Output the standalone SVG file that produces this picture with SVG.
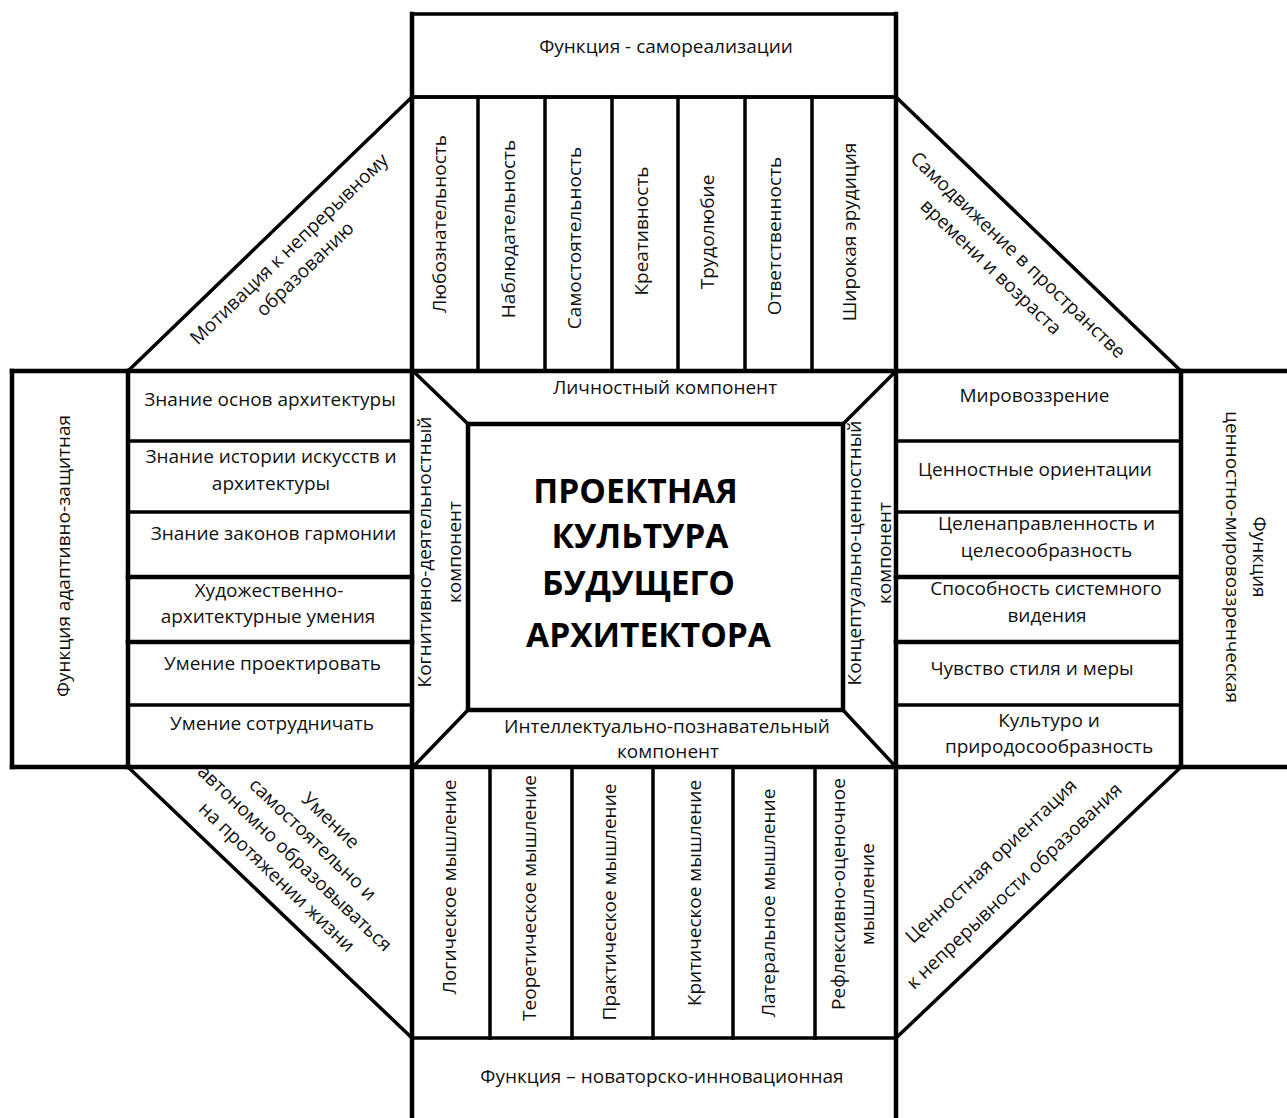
<svg xmlns="http://www.w3.org/2000/svg" width="1287" height="1118" viewBox="0 0 1287 1118">
<style>
.ln{stroke:#000;stroke-width:3.5;fill:none;stroke-linecap:square}
.tk{stroke:#000;stroke-width:4.5;fill:none;stroke-linecap:square}
.bx{stroke:#000;stroke-width:3.5;fill:#fff}
text{font-family:"Open Sans","Noto Sans",sans-serif;font-size:19px;fill:#111;text-anchor:middle}
.title{font-weight:bold;font-size:33.5px;fill:#000}
</style>
<rect width="1287" height="1118" fill="#fff"/>
<g id="connectors">
<line class="ln" x1="128" y1="371" x2="412" y2="97"/>
<line class="ln" x1="896" y1="97" x2="1181" y2="371"/>
<line class="ln" x1="128" y1="767" x2="412" y2="1038"/>
<line class="ln" x1="896" y1="1038" x2="1181" y2="767"/>
</g>
<g id="top-function">
<rect class="bx" x="412" y="14" width="484" height="83"/>
<text x="666" y="53">Функция - самореализации</text>
</g>
<g id="personal-qualities">
<rect class="ln" x="412" y="97" width="484" height="274"/>
<path class="ln" d="M478 97V371M545 97V371M612 97V371M678 97V371M745 97V371M812 97V371"/>
<text transform="rotate(-90 446 224)" x="446" y="224">Любознательность</text>
<text transform="rotate(-90 514.5 229)" x="514.5" y="229">Наблюдательность</text>
<text transform="rotate(-90 581 238)" x="581" y="238">Самостоятельность</text>
<text transform="rotate(-90 648 231)" x="648" y="231">Креативность</text>
<text transform="rotate(-90 714 232)" x="714" y="232">Трудолюбие</text>
<text transform="rotate(-90 781 236)" x="781" y="236">Ответственность</text>
<text transform="rotate(-90 856 232)" x="856" y="232">Широкая эрудиция</text>
</g>
<g id="main-lines">
<line class="tk" x1="12" y1="371" x2="1287" y2="371"/>
<line class="tk" x1="12" y1="767" x2="1287" y2="767"/>
<line class="tk" x1="412" y1="14" x2="412" y2="1118"/>
<line class="tk" x1="896" y1="14" x2="896" y2="1118"/>
</g>
<g id="left-function">
<path class="tk" d="M12 371V767M128 371V767"/>
<text transform="rotate(-90 70 556)" x="70" y="556">Функция адаптивно-защитная</text>
</g>
<g id="left-list">
<path class="ln" d="M128 441H412M128 512H412M128 705H412"/>
<path class="tk" d="M128 577H412M128 642H412"/>
<text x="270" y="406">Знание основ архитектуры</text>
<text x="271" y="463">Знание истории искусств и</text>
<text x="271" y="490">архитектуры</text>
<text x="273.5" y="540">Знание законов гармонии</text>
<text x="269" y="597">Художественно-</text>
<text x="268" y="623">архитектурные умения</text>
<text x="272.5" y="670">Умение проектировать</text>
<text x="272" y="730">Умение сотрудничать</text>
</g>
<g id="right-list">
<path class="ln" d="M896 441H1181M896 512H1181M896 705H1181"/>
<path class="tk" d="M896 577H1181M896 642H1181M1181 371V767"/>
<text x="1034.5" y="402">Мировоззрение</text>
<text x="1035" y="476">Ценностные ориентации</text>
<text x="1046.5" y="530">Целенаправленность и</text>
<text x="1046.5" y="557">целесообразность</text>
<text x="1046" y="595">Способность системного</text>
<text x="1047" y="622">видения</text>
<text x="1032" y="675">Чувство стиля и меры</text>
<text x="1049" y="727">Культуро и</text>
<text x="1049" y="753">природосообразность</text>
</g>
<g id="right-function">
<text transform="rotate(90 1253 557)" x="1253" y="557">Функция</text>
<text transform="rotate(90 1226 557)" x="1226" y="557">ценностно-мировоззренческая</text>
</g>
<g id="components">
<path class="ln" d="M413 371L468 424M896 371L843 424M413 767L468 710M896 767L843 710"/>
<text x="665" y="394">Личностный компонент</text>
<text x="667" y="733">Интеллектуально-познавательный</text>
<text x="668" y="758">компонент</text>
<text transform="rotate(-90 431 552)" x="431" y="552">Когнитивно-деятельностный</text>
<text transform="rotate(-90 461 552)" x="461" y="552">компонент</text>
<text transform="rotate(-90 861 553)" x="861" y="553">Концептуально-ценностный</text>
<text transform="rotate(-90 891 553)" x="891" y="553">компонент</text>
</g>
<g id="center">
<rect x="468" y="424" width="375" height="286" fill="#fff" stroke="#000" stroke-width="4.5"/>
<text class="title" x="635.5" y="503">ПРОЕКТНАЯ</text>
<text class="title" x="640" y="548">КУЛЬТУРА</text>
<text class="title" x="638.5" y="595">БУДУЩЕГО</text>
<text class="title" x="648.5" y="647">АРХИТЕКТОРА</text>
</g>
<g id="thinking">
<rect class="ln" x="412" y="767" width="484" height="271"/>
<path class="ln" d="M490 767V1038M572 767V1038M653 767V1038M733 767V1038M815 767V1038"/>
<text transform="rotate(-90 456 887)" x="456" y="887">Логическое мышление</text>
<text transform="rotate(-90 536 898)" x="536" y="898">Теоретическое мышление</text>
<text transform="rotate(-90 616 902)" x="616" y="902">Практическое мышление</text>
<text transform="rotate(-90 701 893)" x="701" y="893">Критическое мышление</text>
<text transform="rotate(-90 775 903)" x="775" y="903">Латеральное мышление</text>
<text transform="rotate(-90 845 894)" x="845" y="894">Рефлексивно-оценочное</text>
<text transform="rotate(-90 874 894)" x="874" y="894">мышление</text>
</g>
<g id="bottom-function">
<text x="662" y="1083">Функция – новаторско-инновационная</text>
</g>
<g id="diag-top-left">
<text transform="rotate(-43.9 293.5 253.6)" x="293.5" y="253.6">Мотивация к непрерывному</text>
<text transform="rotate(-43.9 309.5 273.6)" x="309.5" y="273.6">образованию</text>
</g>
<g id="diag-top-right">
<text transform="rotate(43.7 1013.5 259.6)" x="1013.5" y="259.6">Самодвижение в пространстве</text>
<text transform="rotate(43.7 986.5 271.6)" x="986.5" y="271.6">времени и возраста</text>
</g>
<g id="diag-bottom-left">
<text transform="rotate(43.7 326.3 825.2)" x="326.3" y="825.2">Умение</text>
<text transform="rotate(43.7 308.4 844)" x="308.4" y="844">самостоятельно и</text>
<text transform="rotate(43.7 290.4 862.8)" x="290.4" y="862.8">автономно образовываться</text>
<text transform="rotate(43.7 272.4 881.6)" x="272.4" y="881.6">на протяжении жизни</text>
</g>
<g id="diag-bottom-right">
<text transform="rotate(-43.6 995.5 865.6)" x="995.5" y="865.6">Ценностная ориентация</text>
<text transform="rotate(-43.6 1018.5 890.6)" x="1018.5" y="890.6">к непрерывности образования</text>
</g>
</svg>
